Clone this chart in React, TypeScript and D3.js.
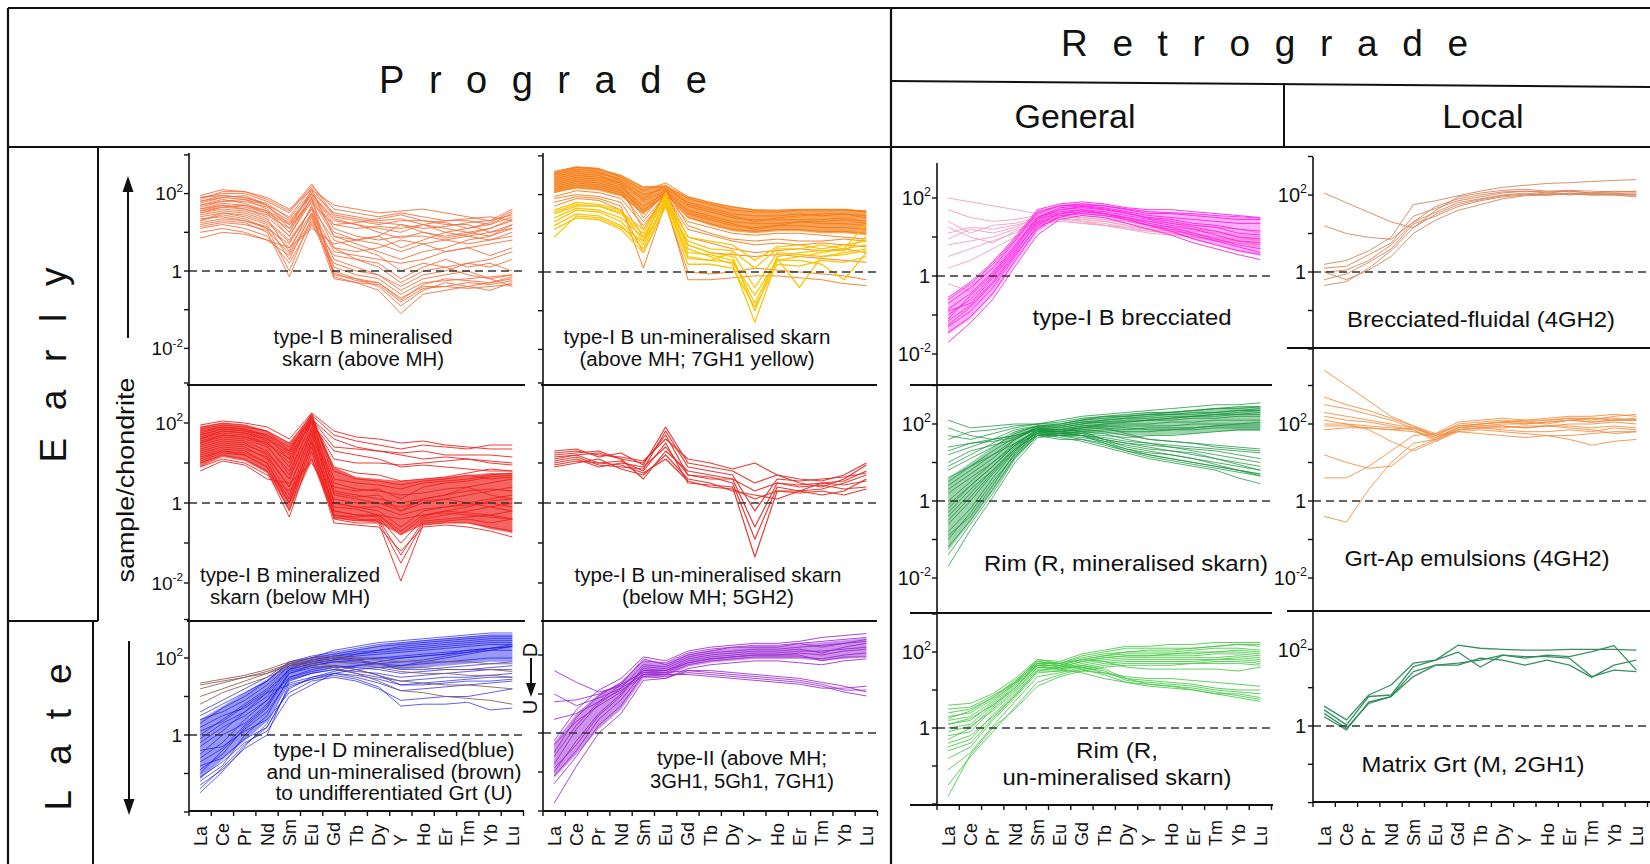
import React from "react";
import * as d3 from "d3";

// Rare-earth elements (x categories)
const REE = ["La", "Ce", "Pr", "Nd", "Sm", "Eu", "Gd", "Tb", "Dy", "Y", "Ho", "Er", "Tm", "Yb", "Lu"];
// y tick decades (log10 of sample/chondrite)
const DECADES = [-3, -2, -1, 0, 1, 2, 3];

// All values below are log10(sample/chondrite).
// A: type-I B mineralised skarn (above MH)
const mineralisedAboveMH = [
  [1.9, 2.0, 2.0, 1.8, 1.5, 2.2, 1.6, 1.5, 1.4, 1.5, 1.4, 1.3, 1.3, 1.2, 1.4],
  [1.8, 1.95, 1.9, 1.7, 1.2, 2.0, 1.3, 1.2, 1.1, 1.0, 1.2, 1.1, 1.0, 1.1, 1.3],
  [1.7, 1.8, 1.85, 1.6, 1.0, 1.9, 1.0, 0.8, 0.7, 0.5, 0.7, 0.8, 0.9, 0.8, 1.0],
  [1.6, 1.75, 1.7, 1.5, 0.9, 1.8, 0.6, 0.3, 0.1, -0.3, 0.0, 0.1, 0.2, 0.1, 0.3],
  [1.5, 1.6, 1.55, 1.35, 0.5, 1.7, 0.0, -0.2, -0.4, -0.9, -0.5, -0.3, -0.4, -0.3, -0.2],
  [1.4, 1.5, 1.4, 1.2, 0.3, 1.5, -0.1, -0.2, -0.3, -0.7, -0.4, -0.4, -0.3, -0.35, -0.25],
  [1.3, 1.45, 1.35, 1.1, 0.0, 1.4, -0.2, -0.3, -0.5, -1.1, -0.6, -0.5, -0.4, -0.5, -0.3],
  [1.2, 1.3, 1.25, 1.0, -0.15, 1.2, 0.2, 0.0, -0.1, -0.5, -0.2, -0.1, 0.0, -0.2, -0.1],
  [1.0, 1.1, 1.0, 0.8, 0.4, 1.3, 0.6, 0.5, 0.6, 0.8, 0.7, 0.5, 0.6, 0.7, 0.8],
  [0.85, 1.0, 0.95, 0.8, 0.6, 1.1, 0.7, 0.8, 0.9, 1.2, 1.0, 0.9, 1.0, 0.9, 1.1],
  [1.85, 2.05, 2.05, 1.9, 1.6, 2.1, 1.7, 1.6, 1.5, 1.55, 1.6, 1.5, 1.4, 1.3, 1.6],
  [1.75, 1.9, 1.95, 1.7, 1.4, 2.15, 1.4, 1.3, 1.2, 1.3, 1.3, 1.2, 1.2, 1.0, 1.1],
  [1.65, 1.8, 1.8, 1.65, 1.3, 1.95, 1.1, 0.9, 0.8, 0.9, 0.9, 0.8, 0.7, 0.8, 0.9],
  [1.55, 1.7, 1.6, 1.45, 1.1, 1.85, 0.9, 0.8, 0.9, 0.6, 0.8, 1.0, 1.1, 1.2, 1.5],
  [1.45, 1.55, 1.5, 1.3, 0.8, 1.6, 0.5, 0.4, 0.3, 0.2, 0.3, 0.5, 0.6, 0.4, 0.6],
  [1.35, 1.4, 1.3, 1.15, 0.6, 1.5, 0.3, 0.1, -0.1, -0.4, -0.1, 0.0, 0.2, 0.3, 0.5],
  [1.6, 1.7, 1.65, 1.5, 1.2, 1.75, 1.2, 1.1, 1.15, 1.1, 1.2, 1.0, 0.9, 1.0, 1.2],
  [1.9, 1.95, 1.9, 1.75, 1.35, 2.05, 1.5, 1.4, 1.3, 1.35, 1.2, 1.3, 1.35, 1.4, 1.3],
  [1.25, 1.35, 1.3, 1.1, 0.7, 1.65, 0.8, 0.6, 0.4, 0.0, 0.2, 0.1, -0.1, -0.2, -0.4],
  [1.5, 1.65, 1.6, 1.4, 0.9, 1.9, -0.15, -0.3, -0.35, -0.8, -0.45, -0.4, -0.45, -0.4, -0.35],
  [1.1, 1.2, 1.1, 0.9, 0.2, 1.25, 0.4, 0.3, 0.2, -0.2, 0.1, 0.3, 0.1, 0.2, 0.0],
  [1.7, 1.85, 1.75, 1.55, 1.0, 2.0, 1.2, 1.25, 1.35, 1.45, 1.3, 1.25, 1.1, 1.25, 1.55],
  [1.3, 1.5, 1.45, 1.25, 0.75, 1.6, 0.1, -0.1, -0.2, -0.6, -0.3, -0.25, -0.2, -0.15, -0.1],
  [1.8, 1.9, 1.85, 1.7, 1.1, 2.1, 0.9, 0.7, 0.5, 0.3, 0.5, 0.6, 0.8, 0.9, 1.2],
  [1.95, 2.1, 2.05, 1.85, 1.55, 2.25, 1.45, 1.35, 1.25, 1.2, 1.1, 1.15, 1.25, 1.3, 1.45],
  [1.15, 1.25, 1.2, 1.05, 0.45, 1.45, -0.05, -0.25, -0.3, -0.75, -0.35, -0.2, -0.25, -0.3, -0.15],
  [1.55, 1.65, 1.7, 1.55, 1.25, 2.0, 1.35, 1.2, 1.0, 0.85, 1.0, 0.85, 0.95, 1.1, 1.35],
];

// B: type-I B un-mineralised skarn (above MH), orange + 7GH1 yellow
const unminAboveOrange = [
  [2.55, 2.7, 2.65, 2.5, 2.2, 2.2, 1.9, 1.75, 1.6, 1.55, 1.55, 1.6, 1.6, 1.6, 1.55],
  [2.45, 2.6, 2.55, 2.4, 2.0, 2.15, 1.8, 1.65, 1.5, 1.45, 1.45, 1.5, 1.45, 1.5, 1.45],
  [2.35, 2.5, 2.45, 2.3, 1.85, 2.1, 1.7, 1.55, 1.4, 1.35, 1.35, 1.35, 1.35, 1.4, 1.3],
  [2.25, 2.4, 2.35, 2.2, 1.7, 2.05, 1.6, 1.45, 1.3, 1.25, 1.25, 1.3, 1.25, 1.25, 1.2],
  [2.15, 2.3, 2.25, 2.1, 1.6, 2.0, 1.5, 1.35, 1.2, 1.15, 1.2, 1.2, 1.15, 1.15, 1.1],
  [2.05, 2.2, 2.15, 2.0, 1.5, 2.0, 1.4, 1.25, 1.1, 1.05, 1.1, 1.1, 1.05, 1.05, 1.0],
  [2.5, 2.65, 2.6, 2.35, 1.9, 2.25, 1.75, 1.6, 1.45, 1.3, 1.4, 1.45, 1.5, 1.5, 1.4],
  [2.3, 2.45, 2.4, 2.25, 1.4, 2.1, 1.55, 1.4, 1.25, 1.1, 1.2, 1.3, 1.3, 1.35, 1.25],
  [1.95, 2.1, 2.05, 1.9, 1.2, 1.95, 1.3, 1.15, 1.0, 0.95, 1.0, 1.0, 0.95, 0.9, 0.85],
  [1.9, 2.0, 1.95, 1.8, 0.9, 1.9, 0.7, 0.5, 0.45, 0.4, 0.45, 0.4, 0.35, 0.3, 0.25],
  [1.8, 1.95, 1.9, 1.7, 0.1, 1.8, -0.2, -0.2, -0.15, -0.1, -0.1, -0.15, -0.2, -0.3, -0.35],
  [1.7, 1.9, 1.85, 1.6, 0.5, 1.7, 0.0, -0.05, 0.0, 0.1, 0.05, 0.0, -0.05, -0.1, -0.2],
  [2.2, 2.35, 2.3, 2.15, 1.1, 2.05, 0.9, 0.75, 0.6, 0.5, 0.55, 0.6, 0.55, 0.6, 0.5],
  [2.4, 2.55, 2.5, 2.3, 1.55, 2.15, 1.2, 1.0, 0.85, 0.8, 0.85, 0.8, 0.8, 0.85, 0.8],
  [2.1, 2.25, 2.2, 2.05, 1.3, 2.0, 1.1, 0.95, 0.8, 0.7, 0.75, 0.7, 0.75, 0.7, 0.65],
  [2.6, 2.72, 2.68, 2.45, 2.1, 2.3, 1.95, 1.8, 1.68, 1.6, 1.6, 1.62, 1.62, 1.62, 1.58],
];
const unminAboveOrangeHi = [2.6, 2.72, 2.68, 2.5, 2.2, 2.25, 1.95, 1.8, 1.7, 1.62, 1.6, 1.62, 1.62, 1.62, 1.58];
const unminAboveOrangeLo = [2.05, 2.15, 2.1, 1.95, 1.5, 1.98, 1.4, 1.2, 1.05, 1.0, 1.05, 1.05, 1.0, 1.0, 0.95];
const unminAboveYellow = [
  [1.6, 1.8, 1.75, 1.6, 0.8, 2.05, 0.6, 0.4, 0.2, -1.3, 0.3, 0.4, 0.5, 0.6, 1.25],
  [1.5, 1.7, 1.7, 1.5, 1.0, 2.0, 0.7, 0.5, 0.4, -1.0, 0.4, 0.5, 0.55, 0.55, 0.9],
  [1.4, 1.65, 1.6, 1.4, 0.9, 1.9, 0.5, 0.45, 0.3, -0.8, 0.35, -0.4, 0.4, 0.5, 0.6],
  [1.3, 1.6, 1.55, 1.3, 0.7, 1.85, 0.4, 0.3, 0.25, -0.6, 0.3, 0.3, 0.2, -0.2, 0.5],
  [1.2, 1.5, 1.45, 1.2, 0.6, 1.8, 0.35, 0.3, 0.5, -0.4, 0.5, 0.45, 0.4, 0.45, 0.55],
  [0.9, 1.45, 1.4, 1.15, 0.8, 1.75, 0.8, 0.6, 0.55, 0.1, 0.6, 0.6, 0.7, 0.6, 0.7],
  [1.55, 1.75, 1.7, 1.55, 1.1, 1.95, 0.9, 0.8, 0.7, 0.3, 0.65, 0.7, 0.6, 0.7, 0.8],
  [1.1, 1.4, 1.35, 1.1, 0.5, 1.7, 0.2, 0.2, 0.1, -0.9, 0.2, 0.15, 0.3, 0.25, 0.4],
];

// C: type-I B mineralized skarn (below MH)
const mineralisedBelowMH = [
  [1.95, 2.05, 2.0, 1.9, 1.6, 2.25, 1.8, 1.65, 1.6, 1.5, 1.55, 1.45, 1.4, 1.35, 1.35],
  [1.85, 1.95, 1.9, 1.8, 1.5, 2.2, 1.7, 1.55, 1.45, 1.35, 1.45, 1.4, 1.35, 1.45, 1.45],
  [1.8, 1.9, 1.85, 1.7, 1.4, 2.1, 1.6, 1.4, 1.3, 1.2, 1.1, 1.15, 1.1, 1.05, 1.0],
  [1.7, 1.85, 1.8, 1.6, 1.2, 2.0, 1.3, 1.2, 1.1, 0.9, 0.95, 0.9, 0.85, 0.8, 0.8],
  [1.6, 1.75, 1.7, 1.5, 1.0, 2.1, 0.9, 0.75, 0.7, 0.55, 0.6, 0.65, 0.75, 0.85, 0.8],
  [1.5, 1.65, 1.6, 1.4, 0.8, 2.0, 0.5, 0.35, 0.3, 0.2, 0.25, 0.35, 0.4, 0.5, 0.6],
  [1.45, 1.6, 1.55, 1.3, 0.6, 1.9, 0.2, 0.1, 0.0, -0.2, 0.0, 0.1, 0.2, 0.3, 0.4],
  [1.4, 1.55, 1.5, 1.2, 0.4, 1.8, 0.0, -0.1, -0.2, -0.6, -0.2, -0.1, 0.0, 0.1, 0.2],
  [1.3, 1.45, 1.4, 1.1, 0.2, 1.7, -0.2, -0.3, -0.35, -1.0, -0.4, -0.3, -0.2, -0.1, 0.0],
  [1.2, 1.35, 1.3, 1.0, 0.0, 1.6, -0.3, -0.4, -0.45, -1.5, -0.5, -0.45, -0.4, -0.5, -0.4],
  [1.1, 1.3, 1.2, 0.9, -0.2, 1.5, -0.4, -0.5, -0.5, -1.95, -0.55, -0.5, -0.5, -0.6, -0.7],
  [1.0, 1.2, 1.1, 0.8, -0.35, 1.3, -0.5, -0.55, -0.6, -1.2, -0.6, -0.55, -0.6, -0.7, -0.85],
  [0.9, 1.1, 1.0, 0.7, 0.3, 1.1, -0.2, -0.3, -0.3, -0.4, -0.3, -0.2, -0.25, -0.3, -0.4],
  [0.8, 1.05, 0.95, 0.6, 0.5, 1.0, 0.1, 0.0, 0.0, -0.1, 0.05, 0.1, 0.0, -0.1, -0.2],
  [1.75, 1.9, 1.85, 1.65, 1.1, 2.2, 0.3, 0.2, 0.1, 0.0, 0.1, 0.2, 0.3, 0.35, 0.3],
  [1.65, 1.8, 1.75, 1.55, 0.9, 2.15, 0.0, -0.1, -0.1, -0.3, -0.15, -0.1, -0.05, 0.0, -0.1],
  [1.55, 1.7, 1.65, 1.45, 0.7, 2.05, -0.3, -0.35, -0.3, -0.7, -0.3, -0.25, -0.3, -0.35, -0.4],
  [1.9, 2.0, 1.95, 1.8, 1.3, 2.25, 0.6, 0.5, 0.45, 0.35, 0.5, 0.55, 0.6, 0.7, 0.75],
  [1.35, 1.5, 1.45, 1.25, 0.6, 1.85, 0.4, 0.3, 0.35, 0.1, 0.4, 0.5, 0.55, 0.65, 0.7],
  [1.25, 1.4, 1.35, 1.15, 0.4, 1.75, 0.25, 0.15, 0.2, -0.2, 0.1, 0.2, 0.4, 0.2, 0.1],
  [1.6, 1.8, 1.75, 1.6, 1.3, 2.1, 1.4, 1.35, 1.3, 1.25, 1.3, 1.2, 1.2, 1.2, 1.15],
  [1.5, 1.7, 1.65, 1.5, 1.1, 2.05, 1.1, 1.0, 1.0, 0.95, 1.0, 1.05, 1.1, 1.0, 0.95],
  [1.7, 1.85, 1.8, 1.7, 1.25, 2.15, 0.8, 0.6, 0.55, 0.45, 0.55, 0.6, 0.7, 0.6, 0.65],
  [1.15, 1.3, 1.25, 1.0, 0.1, 1.55, -0.1, -0.15, -0.3, -0.8, -0.35, -0.2, -0.1, 0.05, 0.1],
  [1.05, 1.25, 1.2, 0.9, 0.0, 1.4, -0.35, -0.45, -0.4, -1.3, -0.45, -0.4, -0.35, -0.3, -0.2],
];
const mineralisedBelowHi = [1.9, 2.0, 1.95, 1.8, 1.5, 2.2, 0.9, 0.65, 0.6, 0.55, 0.6, 0.65, 0.7, 0.75, 0.75];
const mineralisedBelowLo = [0.9, 1.15, 1.05, 0.75, -0.2, 1.05, -0.4, -0.45, -0.5, -0.8, -0.55, -0.5, -0.5, -0.65, -0.75];

// D: type-I B un-mineralised skarn (below MH; 5GH2)
const unminBelowMH = [
  [1.3, 1.35, 1.15, 1.25, 0.95, 1.9, 1.0, 0.9, 0.8, 0.5, 0.7, 0.6, 0.55, 0.7, 1.0],
  [1.2, 1.25, 1.3, 1.1, 1.0, 1.7, 0.7, 0.6, 0.6, -0.6, 0.5, 0.45, 0.5, 0.55, 0.8],
  [1.1, 1.2, 1.0, 1.05, 0.8, 1.5, 0.5, 0.45, 0.4, -1.35, 0.3, 0.3, 0.35, 0.5, 0.7],
  [1.0, 1.1, 0.9, 1.0, 0.9, 1.4, 0.7, 0.65, 0.5, -0.9, 0.4, 0.3, 0.5, 0.45, 0.55],
  [1.25, 1.3, 1.2, 1.15, 1.05, 1.6, 1.1, 1.0, 0.85, 1.0, 0.7, 0.5, 0.4, 0.6, 0.95],
  [0.9, 1.0, 1.1, 0.85, 0.7, 1.2, 0.6, 0.5, 0.3, 0.2, 0.1, 0.3, 0.2, 0.3, 0.6],
  [1.15, 1.2, 1.25, 1.1, 0.6, 1.3, 0.8, 0.7, 0.6, 0.3, 0.5, 0.4, 0.45, 0.35, 0.4],
  [1.05, 1.15, 0.95, 0.9, 0.85, 1.8, 0.9, 0.8, 0.7, -0.2, 0.6, 0.55, 0.6, 0.65, 0.75],
  [0.95, 1.05, 1.0, 0.95, 0.75, 1.1, 0.55, 0.4, 0.35, 0.1, 0.3, 0.25, 0.3, 0.2, 0.35],
];

// E: type-I D mineralised (blue) and un-mineralised (brown)
const typeIDBlue = [
  [0.6, 0.9, 1.2, 1.5, 1.9, 2.05, 2.15, 2.25, 2.35, 2.4, 2.45, 2.5, 2.55, 2.6, 2.6],
  [0.3, 0.7, 1.0, 1.4, 1.85, 2.0, 2.1, 2.2, 2.3, 2.35, 2.4, 2.45, 2.5, 2.55, 2.55],
  [0.0, 0.4, 0.8, 1.2, 1.8, 1.95, 2.05, 2.15, 2.2, 2.25, 2.3, 2.35, 2.4, 2.45, 2.45],
  [-0.3, 0.1, 0.6, 1.0, 1.75, 1.9, 2.0, 2.05, 2.1, 2.15, 2.2, 2.25, 2.3, 2.35, 2.35],
  [-0.6, -0.2, 0.4, 0.9, 1.7, 1.85, 1.95, 2.0, 2.0, 2.0, 2.05, 2.1, 2.15, 2.2, 2.2],
  [-0.9, -0.5, 0.2, 0.7, 1.6, 1.8, 1.9, 1.9, 1.85, 1.8, 1.85, 1.9, 1.95, 2.0, 2.0],
  [-1.2, -0.8, 0.0, 0.5, 1.5, 1.7, 1.8, 1.75, 1.7, 1.6, 1.65, 1.7, 1.7, 1.75, 1.8],
  [-1.5, -0.95, -0.3, 0.3, 1.4, 1.6, 1.7, 1.6, 1.5, 1.4, 1.45, 1.5, 1.5, 1.55, 1.6],
  [-0.8, -0.6, -0.1, 0.2, 1.2, 1.5, 1.6, 1.5, 1.35, 1.15, 1.2, 1.25, 1.3, 1.35, 1.4],
  [-0.4, -0.3, 0.1, 0.4, 1.1, 1.4, 1.5, 1.4, 1.2, 0.9, 0.95, 1.0, 1.0, 1.1, 1.2],
  [0.2, 0.5, 0.7, 1.1, 1.3, 1.45, 1.55, 1.45, 1.25, 0.75, 0.8, 0.8, 0.85, 0.65, 0.7],
  [-1.1, -0.7, -0.2, 0.1, 1.0, 1.3, 1.6, 1.7, 1.75, 1.8, 1.9, 2.0, 2.1, 2.2, 2.3],
  [0.5, 0.8, 1.1, 1.4, 1.9, 2.0, 2.2, 2.3, 2.4, 2.45, 2.5, 2.55, 2.6, 2.65, 2.65],
  [-0.1, 0.3, 0.6, 1.1, 1.7, 1.95, 2.05, 2.1, 2.15, 2.2, 2.25, 2.3, 2.35, 2.4, 2.4],
  [-0.5, 0.0, 0.3, 0.8, 1.6, 1.75, 1.8, 1.7, 1.55, 1.3, 1.35, 1.4, 1.45, 1.5, 1.5],
  [-1.3, -0.9, -0.35, 0.0, 1.35, 1.5, 1.65, 1.8, 1.9, 2.0, 2.05, 2.1, 2.2, 2.25, 2.3],
  [0.4, 0.6, 0.9, 1.3, 1.8, 1.9, 2.0, 1.95, 1.85, 1.7, 1.7, 1.75, 1.8, 1.85, 1.9],
  [-0.2, 0.2, 0.5, 0.9, 1.5, 1.65, 1.75, 1.8, 1.85, 1.9, 1.95, 2.05, 2.15, 2.25, 2.35],
  [-1.0, -0.4, 0.15, 0.6, 1.45, 1.6, 1.7, 1.65, 1.6, 1.5, 1.55, 1.6, 1.65, 1.7, 1.7],
  [0.1, 0.35, 0.75, 1.15, 1.7, 1.85, 1.95, 2.1, 2.2, 2.3, 2.35, 2.4, 2.45, 2.5, 2.5],
  [-0.7, -0.35, 0.25, 0.75, 1.65, 1.8, 1.9, 1.95, 2.0, 2.05, 2.1, 2.15, 2.2, 2.25, 2.3],
  [-1.4, -0.85, -0.25, 0.2, 1.25, 1.45, 1.6, 1.55, 1.45, 1.3, 1.3, 1.35, 1.4, 1.4, 1.45],
];
const typeIDBlueHi = [0.4, 0.75, 1.1, 1.45, 1.88, 2.03, 2.13, 2.23, 2.33, 2.4, 2.46, 2.51, 2.56, 2.6, 2.6];
const typeIDBlueLo = [-1.15, -0.65, -0.15, 0.35, 1.4, 1.6, 1.75, 1.75, 1.75, 1.7, 1.75, 1.8, 1.85, 1.9, 1.9];
const typeIDBrown = [
  [1.35, 1.45, 1.55, 1.7, 1.9, 2.0, 2.05, 2.0, 1.95, 1.9, 1.9, 1.9, 1.9, 1.85, 1.85],
  [1.2, 1.35, 1.5, 1.65, 1.85, 1.9, 1.9, 1.85, 1.75, 1.65, 1.6, 1.6, 1.55, 1.55, 1.5],
  [1.0, 1.2, 1.4, 1.6, 1.8, 1.85, 1.8, 1.7, 1.55, 1.4, 1.35, 1.3, 1.3, 1.25, 1.2],
  [0.8, 1.1, 1.3, 1.5, 1.75, 1.8, 1.75, 1.6, 1.4, 1.15, 1.1, 1.0, 0.95, 0.9, 0.8],
  [1.3, 1.4, 1.5, 1.6, 1.85, 1.95, 2.0, 1.95, 1.85, 1.75, 1.75, 1.7, 1.7, 1.7, 1.65],
];

// F: type-II (above MH; 3GH1, 5Gh1, 7GH1)
const typeII = [
  [-0.2, 0.6, 1.1, 1.4, 1.95, 1.85, 2.1, 2.2, 2.25, 2.3, 2.3, 2.35, 2.45, 2.5, 2.55],
  [-0.5, 0.4, 0.95, 1.3, 1.85, 1.8, 2.05, 2.15, 2.2, 2.25, 2.25, 2.3, 2.35, 2.4, 2.45],
  [-0.8, 0.1, 0.75, 1.15, 1.75, 1.7, 1.95, 2.05, 2.1, 2.15, 2.15, 2.2, 2.25, 2.3, 2.35],
  [-1.0, -0.2, 0.5, 1.0, 1.65, 1.6, 1.85, 1.95, 2.0, 2.05, 2.05, 2.1, 2.1, 2.15, 2.2],
  [-1.3, -0.6, 0.2, 0.7, 1.5, 1.5, 1.75, 1.85, 1.9, 1.95, 1.95, 1.95, 1.9, 2.0, 2.05],
  [-1.8, -0.85, 0.0, 0.5, 1.35, 1.4, 1.65, 1.75, 1.8, 1.85, 1.85, 1.8, 1.75, 1.85, 1.9],
  [1.6, 1.3, 1.05, 1.2, 1.6, 1.55, 1.6, 1.55, 1.5, 1.45, 1.4, 1.35, 1.25, 1.1, 1.1],
  [1.0, 0.7, 0.9, 1.15, 1.5, 1.45, 1.55, 1.5, 1.45, 1.4, 1.35, 1.3, 1.2, 1.05, 0.95],
  [0.8, 0.85, 1.0, 1.25, 1.55, 1.5, 1.5, 1.45, 1.4, 1.35, 1.3, 1.25, 1.15, 1.15, 1.2],
  [0.35, 0.5, 0.8, 1.1, 1.45, 1.4, 1.6, 1.6, 1.55, 1.5, 1.45, 1.4, 1.3, 1.2, 1.05],
  [-0.6, 0.2, 0.8, 1.25, 1.9, 1.75, 2.0, 2.1, 2.2, 2.2, 2.2, 2.3, 2.2, 2.3, 2.4],
  [-0.9, -0.3, 0.45, 0.95, 1.7, 1.65, 1.9, 2.0, 2.05, 2.1, 2.1, 2.15, 2.05, 2.2, 2.3],
  [-0.3, 0.3, 0.7, 1.05, 1.6, 1.6, 1.8, 1.9, 1.95, 2.0, 2.0, 2.0, 1.85, 1.95, 1.95],
  [-1.1, -0.45, 0.35, 0.85, 1.55, 1.55, 1.8, 1.9, 1.95, 2.0, 2.0, 2.05, 2.0, 2.1, 2.15],
];
const typeIIHi = [-0.25, 0.5, 1.0, 1.3, 1.85, 1.78, 2.03, 2.13, 2.18, 2.23, 2.23, 2.28, 2.33, 2.38, 2.43];
const typeIILo = [-1.15, -0.55, 0.1, 0.6, 1.4, 1.45, 1.7, 1.8, 1.85, 1.9, 1.9, 1.9, 1.85, 1.9, 1.95];

// G: type-I B brecciated (magenta and pink)
const brecciatedMagenta = [
  [-0.55, -0.15, 0.35, 1.0, 1.7, 1.85, 1.9, 1.85, 1.75, 1.7, 1.7, 1.65, 1.6, 1.55, 1.5],
  [-0.7, -0.3, 0.2, 0.9, 1.6, 1.8, 1.85, 1.8, 1.7, 1.6, 1.6, 1.55, 1.5, 1.45, 1.45],
  [-0.85, -0.45, 0.1, 0.8, 1.5, 1.75, 1.8, 1.75, 1.65, 1.55, 1.5, 1.45, 1.4, 1.35, 1.35],
  [-1.0, -0.6, 0.0, 0.7, 1.45, 1.7, 1.75, 1.7, 1.6, 1.5, 1.45, 1.35, 1.3, 1.2, 1.15],
  [-1.15, -0.75, -0.15, 0.6, 1.4, 1.65, 1.7, 1.65, 1.55, 1.45, 1.35, 1.25, 1.15, 1.0, 0.95],
  [-1.3, -0.9, -0.3, 0.5, 1.3, 1.6, 1.65, 1.6, 1.5, 1.35, 1.25, 1.1, 0.95, 0.8, 0.7],
  [-1.45, -1.05, -0.45, 0.4, 1.2, 1.55, 1.6, 1.55, 1.45, 1.3, 1.15, 0.95, 0.8, 0.65, 0.55],
  [-1.7, -1.2, -0.6, 0.25, 1.05, 1.45, 1.55, 1.5, 1.35, 1.2, 1.05, 0.85, 0.7, 0.55, 0.42],
  [-0.6, -0.2, 0.3, 0.95, 1.65, 1.8, 1.82, 1.8, 1.72, 1.65, 1.62, 1.6, 1.55, 1.52, 1.48],
  [-1.1, -0.5, 0.05, 0.75, 1.5, 1.7, 1.78, 1.72, 1.62, 1.48, 1.4, 1.3, 1.25, 1.1, 1.05],
  [-0.9, -0.7, -0.05, 0.65, 1.35, 1.6, 1.7, 1.6, 1.5, 1.4, 1.3, 1.2, 1.05, 0.9, 0.85],
  [-1.25, -0.8, -0.2, 0.55, 1.25, 1.5, 1.65, 1.6, 1.45, 1.3, 1.2, 1.05, 0.9, 0.75, 0.6],
];
const brecciatedPink = [
  [2.0, 1.9, 1.8, 1.7, 1.6, 1.65, 1.6, 1.55, 1.45, 1.4, 1.35, 1.3, 1.25, 1.2, 1.1],
  [1.7, 1.5, 1.4, 1.45, 1.55, 1.6, 1.55, 1.5, 1.4, 1.3, 1.25, 1.2, 1.1, 1.0, 0.95],
  [1.4, 1.1, 1.3, 1.35, 1.5, 1.55, 1.5, 1.45, 1.35, 1.25, 1.2, 1.15, 1.1, 1.0, 0.9],
  [1.1, 1.25, 1.2, 1.3, 1.45, 1.6, 1.45, 1.4, 1.3, 1.2, 1.15, 1.05, 1.0, 0.9, 0.8],
  [0.8, 0.9, 1.0, 1.2, 1.4, 1.5, 1.4, 1.35, 1.25, 1.15, 1.1, 1.0, 0.95, 0.85, 0.75],
  [0.5, 0.7, 0.9, 1.1, 1.4, 1.45, 1.45, 1.4, 1.3, 1.2, 1.1, 1.0, 0.9, 0.85, 0.8],
  [0.2, 0.4, 0.7, 1.0, 1.35, 1.5, 1.4, 1.3, 1.2, 1.1, 1.05, 1.0, 0.95, 0.9, 0.85],
  [-0.2, -0.4, 0.4, 0.9, 1.3, 1.45, 1.35, 1.3, 1.2, 1.15, 1.1, 1.0, 0.9, 0.85, 0.8],
  [1.25, 1.0, 0.85, 1.15, 1.35, 1.4, 1.35, 1.3, 1.25, 1.2, 1.15, 1.1, 1.0, 0.95, 0.9],
  [0.95, 1.2, 1.1, 1.25, 1.5, 1.55, 1.5, 1.45, 1.4, 1.3, 1.25, 1.2, 1.15, 1.05, 1.0],
];
const brecciatedMagentaHi = [-0.6, -0.2, 0.3, 0.95, 1.68, 1.83, 1.87, 1.83, 1.73, 1.66, 1.64, 1.6, 1.55, 1.5, 1.47];
const brecciatedMagentaLo = [-1.5, -1.1, -0.5, 0.3, 1.12, 1.5, 1.58, 1.52, 1.4, 1.25, 1.1, 0.92, 0.78, 0.62, 0.52];

// H: Rim (R, mineralised skarn)
const rimMineralised = [
  [2.1, 1.9, 1.95, 2.0, 2.0, 2.1, 2.2, 2.25, 2.3, 2.35, 2.4, 2.45, 2.5, 2.5, 2.55],
  [1.6, 1.8, 1.85, 1.95, 2.0, 2.05, 2.15, 2.2, 2.25, 2.3, 2.3, 2.35, 2.4, 2.45, 2.45],
  [1.2, 1.4, 1.6, 1.85, 1.95, 2.0, 2.1, 2.15, 2.2, 2.25, 2.25, 2.3, 2.3, 2.35, 2.35],
  [0.8, 1.1, 1.4, 1.75, 1.95, 1.95, 2.05, 2.1, 2.15, 2.15, 2.2, 2.2, 2.25, 2.25, 2.3],
  [0.4, 0.8, 1.2, 1.6, 1.9, 1.9, 2.0, 2.05, 2.05, 2.1, 2.1, 2.15, 2.15, 2.2, 2.2],
  [0.0, 0.5, 1.0, 1.5, 1.85, 1.85, 1.95, 2.0, 2.0, 2.0, 2.05, 2.05, 2.1, 2.1, 2.1],
  [-0.4, 0.2, 0.8, 1.4, 1.8, 1.8, 1.9, 1.95, 1.95, 1.95, 1.95, 2.0, 2.0, 2.0, 2.05],
  [-0.8, -0.2, 0.6, 1.3, 1.8, 1.8, 1.85, 1.9, 1.85, 1.9, 1.9, 1.9, 1.95, 1.95, 1.95],
  [-1.2, -0.5, 0.3, 1.15, 1.7, 1.75, 1.8, 1.85, 1.8, 1.8, 1.85, 1.85, 1.9, 1.9, 1.9],
  [-1.7, -0.75, 0.1, 1.0, 1.65, 1.7, 1.75, 1.7, 1.65, 1.7, 1.7, 1.75, 1.8, 1.85, 1.85],
  [1.9, 1.7, 1.6, 1.7, 1.9, 1.85, 1.8, 1.6, 1.4, 1.3, 1.2, 1.1, 1.0, 0.9, 0.8],
  [1.4, 1.5, 1.55, 1.65, 1.85, 1.75, 1.7, 1.5, 1.3, 1.15, 1.05, 0.95, 0.85, 0.75, 0.65],
  [0.6, 0.9, 1.2, 1.5, 1.8, 1.7, 1.6, 1.45, 1.3, 1.2, 1.1, 1.0, 0.9, 0.8, 0.7],
  [0.2, 0.6, 1.0, 1.45, 1.75, 1.65, 1.55, 1.4, 1.25, 1.1, 1.0, 0.9, 0.8, 0.6, 0.45],
  [-0.3, 0.3, 0.8, 1.35, 1.7, 1.6, 1.6, 1.5, 1.35, 1.25, 1.2, 1.1, 0.95, 0.8, 0.65],
  [-1.0, -0.3, 0.5, 1.2, 1.75, 1.7, 1.65, 1.55, 1.45, 1.35, 1.3, 1.25, 1.1, 0.95, 0.8],
  [1.0, 1.3, 1.45, 1.6, 1.9, 1.8, 1.75, 1.6, 1.5, 1.45, 1.4, 1.35, 1.3, 1.2, 1.1],
  [-0.6, 0.0, 0.7, 1.3, 1.8, 1.75, 1.7, 1.65, 1.55, 1.5, 1.45, 1.4, 1.35, 1.3, 1.25],
  [0.3, 0.7, 1.1, 1.6, 1.95, 1.9, 2.0, 2.1, 2.15, 2.2, 2.25, 2.25, 2.3, 2.35, 2.4],
  [-0.2, 0.4, 0.9, 1.45, 1.85, 1.85, 1.9, 1.9, 1.75, 1.6, 1.55, 1.5, 1.45, 1.4, 1.35],
  [1.7, 1.6, 1.75, 1.9, 2.0, 2.0, 2.1, 2.2, 2.2, 2.25, 2.3, 2.35, 2.4, 2.4, 2.45],
  [0.9, 1.2, 1.5, 1.8, 1.95, 1.95, 2.05, 2.05, 2.1, 2.1, 2.15, 2.2, 2.2, 2.25, 2.25],
  [-0.1, 0.4, 0.9, 1.45, 1.85, 1.8, 1.85, 1.8, 1.7, 1.6, 1.55, 1.5, 1.4, 1.35, 1.3],
  [-1.4, -0.6, 0.2, 1.1, 1.7, 1.7, 1.7, 1.6, 1.5, 1.4, 1.3, 1.2, 1.1, 1.0, 0.9],
  [0.5, 0.9, 1.3, 1.65, 1.9, 1.85, 1.95, 1.95, 1.9, 1.85, 1.85, 1.9, 1.95, 2.0, 2.0],
  [-0.9, -0.4, 0.4, 1.25, 1.75, 1.75, 1.8, 1.75, 1.6, 1.5, 1.4, 1.3, 1.2, 1.1, 1.0],
  [1.3, 1.5, 1.6, 1.7, 1.85, 1.8, 1.7, 1.55, 1.35, 1.2, 1.1, 1.0, 0.9, 0.8, 0.7],
  [-0.5, 0.1, 0.75, 1.35, 1.8, 1.8, 1.9, 2.0, 2.05, 2.1, 2.15, 2.2, 2.25, 2.3, 2.35],
];
const rimMineralisedHi = [0.6, 1.0, 1.4, 1.8, 1.95, 2.0, 2.15, 2.2, 2.25, 2.3, 2.33, 2.37, 2.42, 2.45, 2.47];
const rimMineralisedLo = [-1.3, -0.55, 0.25, 1.1, 1.68, 1.7, 1.75, 1.75, 1.7, 1.7, 1.72, 1.75, 1.8, 1.82, 1.82];

// I: Rim (R, un-mineralised skarn)
const rimUnmineralised = [
  [0.6, 0.65, 0.9, 1.3, 1.8, 1.75, 1.95, 2.05, 2.15, 2.15, 2.2, 2.2, 2.25, 2.25, 2.25],
  [0.4, 0.5, 0.8, 1.25, 1.75, 1.7, 1.9, 2.0, 2.1, 2.1, 2.1, 2.1, 2.15, 2.2, 2.15],
  [0.2, 0.3, 0.7, 1.2, 1.7, 1.7, 1.85, 1.95, 2.0, 2.0, 2.0, 2.05, 2.1, 2.1, 2.05],
  [0.0, 0.1, 0.6, 1.1, 1.65, 1.65, 1.8, 1.9, 1.95, 1.95, 1.95, 2.0, 2.0, 2.0, 1.95],
  [-0.2, -0.1, 0.5, 1.0, 1.6, 1.6, 1.75, 1.85, 1.9, 1.9, 1.9, 1.9, 1.95, 1.95, 1.9],
  [-0.5, -0.3, 0.35, 0.9, 1.55, 1.55, 1.7, 1.8, 1.85, 1.85, 1.85, 1.85, 1.85, 1.9, 1.85],
  [-0.8, -0.5, 0.2, 0.8, 1.45, 1.5, 1.65, 1.75, 1.8, 1.8, 1.8, 1.8, 1.8, 1.85, 1.8],
  [-1.1, -0.65, 0.05, 0.7, 1.35, 1.45, 1.6, 1.7, 1.75, 1.75, 1.75, 1.75, 1.8, 1.8, 1.75],
  [-1.5, -0.75, -0.1, 0.55, 1.2, 1.4, 1.55, 1.65, 1.7, 1.7, 1.7, 1.7, 1.75, 1.75, 1.7],
  [-1.8, -0.7, 0.0, 0.5, 1.1, 1.35, 1.5, 1.6, 1.65, 1.65, 1.65, 1.7, 1.7, 1.7, 1.65],
  [0.5, 0.55, 0.85, 1.2, 1.8, 1.7, 1.6, 1.45, 1.3, 1.15, 1.1, 1.05, 0.95, 0.85, 0.75],
  [0.3, 0.4, 0.75, 1.15, 1.75, 1.65, 1.55, 1.4, 1.2, 1.1, 1.05, 1.0, 0.9, 0.8, 0.7],
  [0.1, 0.25, 0.6, 1.05, 1.7, 1.6, 1.6, 1.5, 1.25, 1.2, 1.15, 1.1, 1.0, 0.95, 0.9],
  [-0.1, 0.05, 0.45, 0.95, 1.6, 1.55, 1.65, 1.55, 1.3, 1.25, 1.2, 1.15, 1.05, 1.0, 1.0],
  [-0.4, -0.2, 0.3, 0.85, 1.5, 1.5, 1.5, 1.45, 1.35, 1.3, 1.3, 1.25, 1.2, 1.15, 1.1],
  [0.25, 0.45, 0.8, 1.2, 1.7, 1.7, 1.8, 1.75, 1.6, 1.55, 1.55, 1.55, 1.55, 1.5, 1.6],
  [-0.3, 0.0, 0.55, 1.05, 1.65, 1.65, 1.8, 1.9, 2.0, 2.05, 2.05, 2.1, 2.15, 2.2, 2.2],
  [-0.6, -0.4, 0.25, 0.85, 1.5, 1.6, 1.75, 1.85, 1.9, 1.9, 1.95, 1.95, 2.0, 2.05, 2.0],
  [0.1, 0.2, 0.65, 1.15, 1.65, 1.55, 1.45, 1.3, 1.2, 1.15, 1.1, 1.0, 0.9, 0.9, 0.8],
];

// J: Brecciated-fluidal (4GH2)
const brecciatedFluidal = [
  [2.05, 1.8, 1.55, 1.3, 1.15, 1.6, 1.95, 2.05, 2.12, 2.15, 2.1, 2.12, 2.1, 2.08, 2.1],
  [1.2, 1.0, 0.9, 0.85, 1.3, 1.7, 1.9, 2.0, 2.08, 2.1, 2.05, 2.1, 2.05, 2.05, 2.0],
  [0.2, 0.3, 0.55, 0.9, 1.75, 1.85, 1.98, 2.1, 2.2, 2.25, 2.3, 2.32, 2.35, 2.38, 2.4],
  [0.1, 0.15, 0.45, 0.75, 1.45, 1.65, 1.85, 1.95, 2.05, 2.1, 2.08, 2.1, 2.05, 2.1, 2.08],
  [0.0, 0.05, 0.3, 0.7, 1.3, 1.55, 1.8, 1.9, 2.0, 2.05, 2.0, 2.05, 2.02, 2.0, 2.0],
  [-0.2, -0.05, 0.25, 0.6, 1.25, 1.45, 1.7, 1.85, 1.95, 2.0, 2.05, 2.0, 2.05, 2.05, 2.05],
  [-0.35, -0.25, 0.1, 0.55, 1.15, 1.5, 1.75, 1.88, 1.98, 2.02, 2.0, 2.05, 2.0, 2.02, 2.0],
  [0.0, -0.2, 0.05, 0.4, 1.0, 1.35, 1.6, 1.75, 1.9, 1.98, 2.0, 2.02, 2.0, 2.0, 1.95],
];

// K: Grt-Ap emulsions (4GH2)
const grtApEmulsions = [
  [3.4, 3.0, 2.6, 2.2, 1.95, 1.7, 1.95, 2.0, 2.05, 2.0, 2.05, 2.1, 2.05, 2.1, 2.1],
  [2.7, 2.5, 2.35, 2.15, 1.95, 1.75, 2.05, 2.1, 2.15, 2.1, 2.15, 2.2, 2.2, 2.25, 2.2],
  [2.5, 2.4, 2.25, 2.1, 1.9, 1.7, 2.0, 2.05, 2.1, 2.05, 2.1, 2.15, 2.15, 2.15, 2.1],
  [2.3, 2.2, 2.1, 2.0, 1.9, 1.65, 1.9, 1.95, 1.95, 1.9, 1.95, 2.0, 2.0, 2.05, 2.0],
  [2.0, 2.0, 1.95, 1.9, 1.85, 1.6, 1.85, 1.9, 1.85, 1.8, 1.8, 1.85, 1.8, 1.9, 1.85],
  [1.85, 1.9, 1.9, 1.85, 1.9, 1.7, 1.8, 1.75, 1.7, 1.65, 1.7, 1.6, 1.45, 1.55, 1.6],
  [0.6, 0.6, 0.9, 1.3, 1.7, 1.75, 1.95, 2.0, 2.05, 2.1, 2.1, 2.15, 2.1, 2.2, 2.25],
  [-0.4, -0.55, 0.3, 1.0, 1.5, 1.6, 1.9, 1.95, 2.0, 2.0, 2.05, 2.1, 2.05, 2.1, 2.1],
  [2.1, 2.0, 1.85, 1.55, 1.3, 1.55, 1.85, 1.9, 1.9, 1.95, 1.95, 1.95, 1.9, 1.95, 1.9],
  [1.95, 1.95, 1.9, 1.85, 1.8, 1.65, 1.9, 2.0, 2.05, 2.05, 2.0, 2.1, 2.15, 2.1, 2.15],
  [1.2, 1.0, 0.85, 0.9, 1.35, 1.6, 1.85, 1.9, 1.95, 1.9, 1.95, 1.9, 1.85, 1.75, 1.8],
  [2.2, 2.1, 2.05, 1.95, 1.85, 1.55, 1.8, 1.85, 1.8, 1.75, 1.7, 1.7, 1.75, 1.8, 1.8],
];

// L: Matrix Grt (M, 2GH1)
const matrixGrt = [
  [0.52, 0.16, 0.81, 1.07, 1.64, 1.72, 2.11, 2.03, 2.0, 1.98, 1.98, 2.0, 2.0, 2.0, 1.98],
  [0.42, 0.03, 0.77, 0.81, 1.55, 1.72, 1.93, 1.54, 1.85, 1.77, 1.85, 1.81, 1.94, 2.1, 1.46],
  [0.33, -0.06, 0.59, 0.77, 1.42, 1.59, 1.59, 1.77, 1.72, 1.59, 1.72, 1.59, 1.27, 1.59, 1.72],
  [0.24, -0.1, 0.63, 0.77, 1.29, 1.59, 1.64, 1.72, 1.85, 1.81, 1.81, 1.77, 1.29, 1.46, 1.42],
];

const BAND = 22.3;
const FONT = "'Liberation Sans', Arial, Helvetica, sans-serif";

type Group = {
  lines: number[][];
  color: string;
  width?: number;
  opacity?: number;
  hi?: number[];
  lo?: number[];
  envOpacity?: number;
};

type LabelLine = { text: string; w: number };

type PanelCfg = {
  id: string;
  x0: number;
  y1: number;
  dec: number;
  top: number;
  bottom: number;
  sep: [number, number];
  groups: Group[];
  label: LabelLine[];
  lx: number;
  ly: number;
  lh: number;
  lsize: number;
  ylab: number[];
  ylabSize: number;
  xlab: boolean;
};

const PANELS: PanelCfg[] = [
  {
    id: "A", x0: 189, y1: 271, dec: 38.7, top: 153, bottom: 385, sep: [187, 525],
    groups: [{ lines: mineralisedAboveMH, color: "#f4703f", opacity: 0.9 }],
    label: [{ text: "type-I B mineralised", w: 179 }, { text: "skarn (above MH)", w: 162 }],
    lx: 363, ly: 344, lh: 22, lsize: 20, ylab: [2, 0, -2], ylabSize: 19, xlab: false,
  },
  {
    id: "B", x0: 543, y1: 272, dec: 38.7, top: 153, bottom: 385, sep: [541, 877],
    groups: [
      { lines: unminAboveOrange, color: "#f47a12", opacity: 0.9, hi: unminAboveOrangeHi, lo: unminAboveOrangeLo, envOpacity: 0.7 },
      { lines: unminAboveYellow, color: "#f8c400", opacity: 0.95, width: 1.3 },
    ],
    label: [{ text: "type-I B un-mineralised skarn", w: 267 }, { text: "(above MH; 7GH1 yellow)", w: 235 }],
    lx: 697, ly: 344, lh: 22, lsize: 20, ylab: [], ylabSize: 19, xlab: false,
  },
  {
    id: "C", x0: 189, y1: 503, dec: 40, top: 385, bottom: 621, sep: [187, 525],
    groups: [{ lines: mineralisedBelowMH, color: "#ee2420", opacity: 0.9, hi: mineralisedBelowHi, lo: mineralisedBelowLo, envOpacity: 0.7 }],
    label: [{ text: "type-I B mineralized", w: 180 }, { text: "skarn (below MH)", w: 160 }],
    lx: 290, ly: 582, lh: 22, lsize: 20, ylab: [2, 0, -2], ylabSize: 19, xlab: false,
  },
  {
    id: "D", x0: 543, y1: 503, dec: 40, top: 385, bottom: 621, sep: [541, 877],
    groups: [{ lines: unminBelowMH, color: "#e3322b", opacity: 0.95, width: 1.2 }],
    label: [{ text: "type-I B un-mineralised skarn", w: 267 }, { text: "(below MH; 5GH2)", w: 172 }],
    lx: 708, ly: 582, lh: 22, lsize: 20, ylab: [], ylabSize: 19, xlab: false,
  },
  {
    id: "E", x0: 189, y1: 735, dec: 38.5, top: 621, bottom: 811, sep: [189, 524],
    groups: [
      { lines: typeIDBlue, color: "#1c1ce8", opacity: 0.7, hi: typeIDBlueHi, lo: typeIDBlueLo, envOpacity: 0.45 },
      { lines: typeIDBrown, color: "#8a5a52", opacity: 0.85 },
    ],
    label: [
      { text: "type-I D mineralised(blue)", w: 241 },
      { text: "and un-mineralised (brown)", w: 255 },
      { text: "to undifferentiated Grt (U)", w: 237 },
    ],
    lx: 394, ly: 757, lh: 21.5, lsize: 20, ylab: [2, 0], ylabSize: 19, xlab: true,
  },
  {
    id: "F", x0: 543, y1: 733, dec: 39, top: 621, bottom: 811, sep: [543, 877],
    groups: [{ lines: typeII, color: "#9a28d2", opacity: 0.85, hi: typeIIHi, lo: typeIILo, envOpacity: 0.5 }],
    label: [{ text: "type-II (above MH;", w: 170 }, { text: "3GH1, 5Gh1, 7GH1)", w: 184 }],
    lx: 742, ly: 765, lh: 23, lsize: 20, ylab: [], ylabSize: 19, xlab: true,
  },
  {
    id: "G", x0: 937, y1: 276, dec: 39, top: 163, bottom: 385, sep: [910, 1272],
    groups: [
      { lines: brecciatedPink, color: "#f4a2c8", opacity: 0.95 },
      { lines: brecciatedMagenta, color: "#ff1ee6", opacity: 0.9, hi: brecciatedMagentaHi, lo: brecciatedMagentaLo, envOpacity: 0.35 },
    ],
    label: [{ text: "type-I B brecciated", w: 199 }],
    lx: 1132, ly: 325, lh: 22, lsize: 22, ylab: [2, 0, -2], ylabSize: 20, xlab: false,
  },
  {
    id: "H", x0: 937, y1: 501, dec: 38.5, top: 385, bottom: 613, sep: [910, 1272],
    groups: [{ lines: rimMineralised, color: "#17963c", opacity: 0.75, hi: rimMineralisedHi, lo: rimMineralisedLo, envOpacity: 0.42 }],
    label: [{ text: "Rim (R, mineralised skarn)", w: 284 }],
    lx: 1126, ly: 571, lh: 22, lsize: 22, ylab: [2, 0, -2], ylabSize: 20, xlab: false,
  },
  {
    id: "I", x0: 937, y1: 728, dec: 38, top: 613, bottom: 805, sep: [910, 1273],
    groups: [{ lines: rimUnmineralised, color: "#45c845", opacity: 0.85 }],
    label: [{ text: "Rim (R,", w: 82 }, { text: "un-mineralised skarn)", w: 229 }],
    lx: 1117, ly: 758, lh: 27, lsize: 22, ylab: [2, 0], ylabSize: 20, xlab: true,
  },
  {
    id: "J", x0: 1313, y1: 272, dec: 38.5, top: 157, bottom: 348, sep: [1287, 1650],
    groups: [{ lines: brecciatedFluidal, color: "#d7845c", opacity: 0.9 }],
    label: [{ text: "Brecciated-fluidal (4GH2)", w: 268 }],
    lx: 1481, ly: 327, lh: 22, lsize: 22, ylab: [2, 0], ylabSize: 20, xlab: false,
  },
  {
    id: "K", x0: 1313, y1: 501, dec: 38.5, top: 348, bottom: 611, sep: [1287, 1650],
    groups: [{ lines: grtApEmulsions, color: "#f28a3a", opacity: 0.85 }],
    label: [{ text: "Grt-Ap emulsions (4GH2)", w: 265 }],
    lx: 1477, ly: 566, lh: 22, lsize: 22, ylab: [2, 0, -2], ylabSize: 20, xlab: false,
  },
  {
    id: "L", x0: 1313, y1: 726, dec: 38.3, top: 611, bottom: 802, sep: [1313, 1650],
    groups: [{ lines: matrixGrt, color: "#2e8a5c", opacity: 0.95, width: 1.3 }],
    label: [{ text: "Matrix Grt (M, 2GH1)", w: 223 }],
    lx: 1473, ly: 772, lh: 22, lsize: 22, ylab: [2, 0], ylabSize: 20, xlab: true,
  },
];

function TickLabel({ k, x, y, size }: { k: number; x: number; y: number; size: number }) {
  if (k === 0) {
    return (
      <text x={x} y={y + size * 0.36} fontSize={size} textAnchor="end" fill="#111">1</text>
    );
  }
  return (
    <text x={x} y={y + size * 0.36} fontSize={size} textAnchor="end" fill="#111">
      10<tspan dy={-size * 0.45} fontSize={size * 0.62}>{String(k)}</tspan>
    </text>
  );
}

function Panel({ p }: { p: PanelCfg }) {
  const y = d3.scaleLog().domain([1e-3, 1e3]).range([p.y1 + 3 * p.dec, p.y1 - 3 * p.dec]);
  const x = d3.scaleBand<string>().domain(REE).range([p.x0, p.x0 + REE.length * BAND]).paddingInner(0).paddingOuter(0);
  const cx = (i: number) => (x(REE[i]) as number) + x.bandwidth() / 2;
  const py = (v: number) => y(Math.pow(10, v));
  const line = d3.line<number>().x((_, i) => cx(i)).y((v) => py(v));
  const xEnd = p.x0 + REE.length * BAND;

  const decTicks = DECADES.filter((k) => {
    const t = py(k);
    return t >= p.top - 3 && t <= p.bottom + 1;
  });

  return (
    <g>
      {p.groups.map((g, gi) => {
        const area =
          g.hi && g.lo
            ? d3.area<number>().x((_, i) => cx(i)).y0((_, i) => py((g.lo as number[])[i])).y1((v) => py(v))(g.hi)
            : null;
        return (
          <g key={gi}>
            {area && <path d={area as string} fill={g.color} fillOpacity={g.envOpacity ?? 0.5} stroke="none" />}
            {g.lines.map((ln, li) => (
              <path
                key={li}
                d={line(ln) as string}
                fill="none"
                stroke={g.color}
                strokeWidth={g.width ?? 1}
                strokeOpacity={g.opacity ?? 0.85}
                strokeLinejoin="round"
              />
            ))}
          </g>
        );
      })}
      {/* chondrite = 1 reference */}
      <line x1={p.x0} x2={xEnd} y1={py(0)} y2={py(0)} stroke="#333" strokeWidth={1.6} strokeDasharray="8 5" />
      {/* y axis */}
      <line x1={p.x0} x2={p.x0} y1={p.top} y2={p.bottom} stroke="#111" strokeWidth={1.6} />
      {decTicks.map((k) => (
        <line key={k} x1={p.x0 - 5} x2={p.x0} y1={py(k)} y2={py(k)} stroke="#111" strokeWidth={1.4} />
      ))}
      {p.ylab.map((k) => (
        <TickLabel key={k} k={k} x={k === 0 ? p.x0 - 7 : p.x0 - 6} y={py(k)} size={p.ylabSize} />
      ))}
      {/* bottom line / x axis */}
      <line x1={p.sep[0]} x2={p.sep[1]} y1={p.bottom} y2={p.bottom} stroke="#111" strokeWidth={2} />
      {p.xlab &&
        d3.range(REE.length + 1).map((i) => (
          <line key={"t" + i} x1={p.x0 + i * BAND} x2={p.x0 + i * BAND} y1={p.bottom} y2={p.bottom + 5} stroke="#111" strokeWidth={1.4} />
        ))}
      {p.xlab &&
        REE.map((r, i) => (
          <text
            key={r}
            transform={`translate(${cx(i) + 6.5},846) rotate(-90)`}
            fontSize={18}
            textAnchor="start"
            fill="#111"
          >
            {r}
          </text>
        ))}
      {p.label.map((l, i) => (
        <text
          key={i}
          x={p.lx}
          y={p.ly + i * p.lh}
          fontSize={p.lsize}
          textAnchor="middle"
          textLength={l.w}
          lengthAdjust="spacingAndGlyphs"
          fill="#111"
        >
          {l.text}
        </text>
      ))}
    </g>
  );
}

export default function App() {
  return (
    <svg
      width={1650}
      height={864}
      viewBox="0 0 1650 864"
      style={{ position: "absolute", left: 0, top: 0, background: "#fff" }}
      fontFamily={FONT}
    >
      <rect x={0} y={0} width={1650} height={864} fill="#fff" />
      {/* outer frame and header */}
      <line x1={8} x2={1650} y1={8} y2={8} stroke="#111" strokeWidth={2.2} />
      <line x1={8} x2={8} y1={8} y2={864} stroke="#111" strokeWidth={2.2} />
      <line x1={891} x2={891} y1={8} y2={864} stroke="#111" strokeWidth={2.2} />
      <line x1={8} x2={1650} y1={147} y2={147} stroke="#111" strokeWidth={2.2} />
      <line x1={891} x2={1650} y1={81} y2={87} stroke="#111" strokeWidth={2} />
      <line x1={1284} x2={1284} y1={83} y2={147} stroke="#111" strokeWidth={2} />
      {/* left stage column */}
      <line x1={98} x2={98} y1={147} y2={621} stroke="#111" strokeWidth={2} />
      <line x1={93} x2={93} y1={621} y2={864} stroke="#111" strokeWidth={2} />
      <line x1={8} x2={98} y1={621} y2={621} stroke="#111" strokeWidth={2} />

      <text x={379} y={93} fontSize={38} textLength={328} lengthAdjust="spacing" fill="#111">Prograde</text>
      <text x={1061} y={56} fontSize={37} textLength={407} lengthAdjust="spacing" fill="#111">Retrograde</text>
      <text x={1075} y={128} fontSize={34} textAnchor="middle" fill="#111">General</text>
      <text x={1483} y={128} fontSize={34} textAnchor="middle" fill="#111">Local</text>

      <text transform="translate(66,365) rotate(-90)" fontSize={37} textAnchor="middle" textLength={195} lengthAdjust="spacing" fill="#111">Early</text>
      <text transform="translate(71,737) rotate(-90)" fontSize={37} textAnchor="middle" textLength={147} lengthAdjust="spacing" fill="#111">Late</text>
      <text transform="translate(134,480) rotate(-90)" fontSize={23} textAnchor="middle" textLength={205} lengthAdjust="spacingAndGlyphs" fill="#111">sample/chondrite</text>

      {/* Early / Late arrows */}
      <line x1={128} x2={128} y1={338} y2={190} stroke="#111" strokeWidth={2} />
      <path d="M128,176 L122.5,192 L133.5,192 Z" fill="#111" />
      <line x1={129} x2={129} y1={641} y2={800} stroke="#111" strokeWidth={2} />
      <path d="M129,815 L123.5,799 L134.5,799 Z" fill="#111" />

      {/* U <- D marker */}
      <text transform="translate(537,650) rotate(-90)" fontSize={20} textAnchor="middle" fill="#111">D</text>
      <line x1={531} x2={531} y1={658} y2={686} stroke="#111" strokeWidth={2} />
      <path d="M531,697 L526,683 L536,683 Z" fill="#111" />
      <text transform="translate(537,707) rotate(-90)" fontSize={20} textAnchor="middle" fill="#111">U</text>

      {PANELS.map((p) => (
        <Panel key={p.id} p={p} />
      ))}
    </svg>
  );
}
